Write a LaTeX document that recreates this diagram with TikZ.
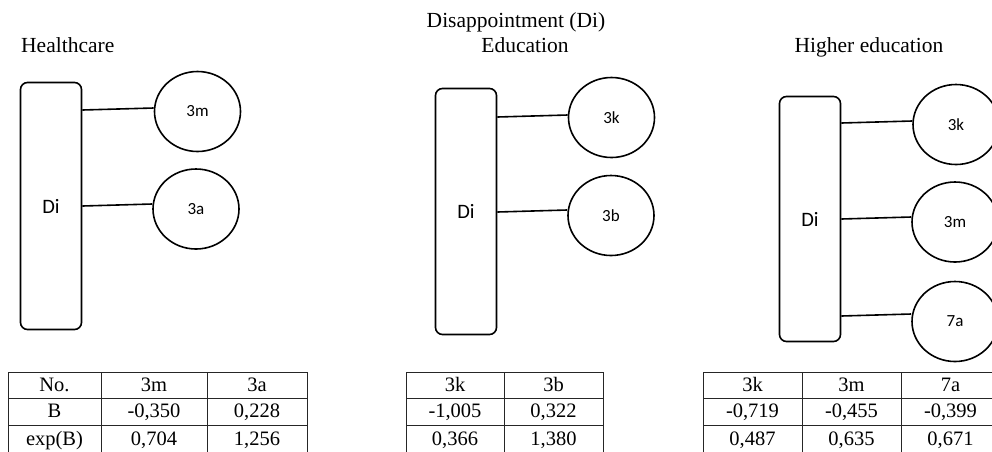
\documentclass[tikz,border=0pt]{standalone}
\usepackage{fontspec}
\setmainfont{Liberation Serif}
\newfontfamily\figsans{Carlito}
\usepackage{tikz}
\usetikzlibrary{shapes.geometric}
\tikzstyle{TitleText}=[anchor=base,inner sep=0pt,font=\fontsize{21.5}{24}\selectfont]
\tikzstyle{BoxDi}=[rectangle,rounded corners=7pt,draw=black,line width=1.6pt,minimum width=61pt,
inner sep=0pt,font=\figsans\fontsize{20.5}{24}\selectfont]
\tikzstyle{NodeFactor}=[ellipse,draw=black,line width=1.6pt,minimum width=86pt,minimum height=80pt,
inner sep=0pt,font=\figsans\fontsize{17}{20}\selectfont]
\tikzstyle{EdgeLink}=[black,line width=1.6pt]
\tikzstyle{CellTab}=[rectangle,draw=black!85,line width=1pt,inner sep=0pt,minimum height=26.5pt,
text height=14pt,text depth=2pt,font=\fontsize{20.5}{24}\selectfont]
\begin{document}
\begin{tikzpicture}[x=1pt,y=-1pt]
        \useasboundingbox(0,0)rectangle(992,451);
        \clip(0,0)rectangle(992,451);
        % titles
        \node[TitleText](title)at(516,27){Disappointment (Di)};
        \node[TitleText,anchor=base west](hcT)at(21,52){Healthcare};
        \node[TitleText](edT)at(525,52){Education};
        \node[TitleText](heT)at(869,52){Higher education};
        % Healthcare
        \node[BoxDi,minimum height=247pt](hcDi)at(51,206){Di};
        \node[NodeFactor](hcM)at(197.5,111.5){3m};
        \node[NodeFactor](hcA)at(196,209){3a};
        \draw[EdgeLink]([yshift=1.5pt]hcDi.east|-hcM)--([yshift=3.5pt]hcM.west);
        \draw[EdgeLink]([yshift=3pt]hcDi.east|-hcA)--([yshift=5pt]hcA.west);
        % Education
        \node[BoxDi,minimum height=246pt](edDi)at(466,211.5){Di};
        \node[NodeFactor](edK)at(611.5,117.5){3k};
        \node[NodeFactor](edB)at(611,215.5){3b};
        \draw[EdgeLink]([yshift=0.5pt]edDi.east|-edK)--([yshift=2.5pt]edK.west);
        \draw[EdgeLink]([yshift=3.5pt]edDi.east|-edB)--([yshift=5.5pt]edB.west);
        % Higher education
        \node[BoxDi,minimum height=245pt](heDi)at(810,219){Di};
        \node[NodeFactor](heK)at(956,124.5){3k};
        \node[NodeFactor](heM)at(955,222){3m};
        \node[NodeFactor](heA)at(955,321.5){7a};
        \draw[EdgeLink]([yshift=1.5pt]heDi.east|-heK)--([yshift=3.5pt]heK.west);
        \draw[EdgeLink]([yshift=3pt]heDi.east|-heM)--([yshift=5pt]heM.west);
        \draw[EdgeLink]([yshift=5.5pt]heDi.east|-heA)--([yshift=7.5pt]heA.west);
        % table Healthcare
        \node[CellTab,minimum width=93pt](hc11)at(54.5,385.25){No.};
        \node[CellTab,minimum width=106pt](hc12)at(154,385.25){3m};
        \node[CellTab,minimum width=100pt](hc13)at(257,385.25){3a};
        \node[CellTab,minimum width=93pt](hc21)at(54.5,411.75){B};
        \node[CellTab,minimum width=106pt](hc22)at(154,411.75){-0,350};
        \node[CellTab,minimum width=100pt](hc23)at(257,411.75){0,228};
        \node[CellTab,minimum width=93pt,minimum height=28pt](hc31)at(54.5,439){exp(B)};
        \node[CellTab,minimum width=106pt,minimum height=28pt](hc32)at(154,439){0,704};
        \node[CellTab,minimum width=100pt,minimum height=28pt](hc33)at(257,439){1,256};
        % table Education
        \node[CellTab,minimum width=98pt](ed11)at(455,385.25){3k};
        \node[CellTab,minimum width=99pt](ed12)at(553.5,385.25){3b};
        \node[CellTab,minimum width=98pt](ed21)at(455,411.75){-1,005};
        \node[CellTab,minimum width=99pt](ed22)at(553.5,411.75){0,322};
        \node[CellTab,minimum width=98pt,minimum height=28pt](ed31)at(455,439){0,366};
        \node[CellTab,minimum width=99pt,minimum height=28pt](ed32)at(553.5,439){1,380};
        % table Higher education
        \node[CellTab,minimum width=99pt](he11)at(752.5,385.25){3k};
        \node[CellTab,minimum width=99pt](he12)at(851.5,385.25){3m};
        \node[CellTab,minimum width=99pt](he13)at(950.5,385.25){7a};
        \node[CellTab,minimum width=99pt](he21)at(752.5,411.75){-0,719};
        \node[CellTab,minimum width=99pt](he22)at(851.5,411.75){-0,455};
        \node[CellTab,minimum width=99pt](he23)at(950.5,411.75){-0,399};
        \node[CellTab,minimum width=99pt,minimum height=28pt](he31)at(752.5,439){0,487};
        \node[CellTab,minimum width=99pt,minimum height=28pt](he32)at(851.5,439){0,635};
        \node[CellTab,minimum width=99pt,minimum height=28pt](he33)at(950.5,439){0,671};
    \end{tikzpicture}
\end{document}
